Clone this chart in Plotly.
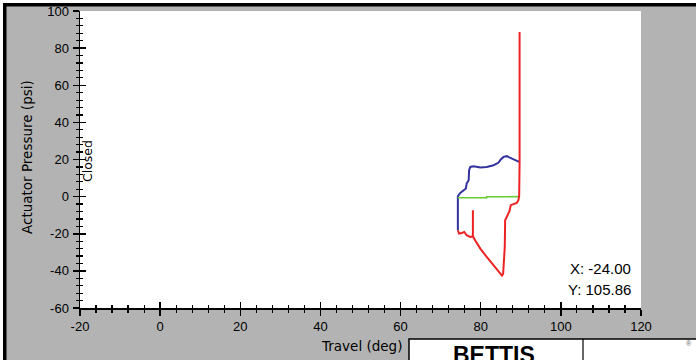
import plotly.graph_objects as go

# ---- data ----
blue_x = [74.3, 74.3, 74.9, 75.7, 76.3, 76.5, 77.0, 77.1, 77.4, 78.2, 79.9, 81.5, 83.2, 84.4, 85.0, 85.7, 86.5, 87.8, 88.6, 89.6]
blue_y = [-18.1, 0.2, 2.0, 3.5, 4.4, 7.1, 8.8, 14.2, 16.0, 16.4, 15.7, 16.0, 16.9, 18.2, 20.0, 21.4, 21.8, 20.5, 19.6, 18.7]

green_x = [74.3, 81.5, 81.5, 89.6]
green_y = [-0.6, -0.6, -0.1, 0.0]

red_x = [74.3, 74.6, 75.3, 75.9, 76.5, 77.4, 78.05, 78.05, 78.05, 78.6, 79.9, 81.5, 83.2, 84.4, 85.3,
         85.6, 86.0, 86.1, 86.7, 87.2, 87.5, 88.4, 89.0, 89.4, 89.6, 89.7, 89.7]
red_y = [-18.1, -19.9, -19.6, -19.0, -20.8, -21.7, -21.4, -7.3, -21.4, -23.5, -28.0, -32.5, -37.0, -39.7, -42.5,
         -41.5, -27.1, -12.7, -10.0, -7.7, -4.6, -4.1, -3.4, -1.9, 0.2, 18.7, 88.7]

x_tickvals = [-20, 0, 20, 40, 60, 80, 100, 120]
x_ticktext = ["-20", "0", "20", "40", "60", "80", "100", "120"]
y_tickvals = [-60, -40, -20, 0, 20, 40, 60, 80, 100]
y_ticktext = ["-60", "-40", "-20", "0", "20", "40", "60", "80", "100"]
x_minor = [v for v in range(-20, 121, 4) if v % 20 != 0]
y_minor = [v for v in range(-60, 101, 4) if v % 20 != 0]

x_title = "Travel (deg)"
y_title = "Actuator Pressure (psi)"
marker_label = "Closed"
cursor_x = "X: -24.00"
cursor_y = "Y: 105.86"
brand = "BETTIS"

# ---- layout geometry (pixels) ----
W, H = 696, 360
L, R, T, B = 80, 55, 11, 52
PW, PH = W - L - R, H - T - B


def fx(px):
    return (px - L) / PW


def fy(py):
    return (H - B - py) / PH


GRAY = "#b3b3b3"

fig = go.Figure()
fig.add_trace(go.Scatter(x=blue_x, y=blue_y, mode="lines",
                         line=dict(color="#33339f", width=2), hoverinfo="skip"))
fig.add_trace(go.Scatter(x=green_x, y=green_y, mode="lines",
                         line=dict(color="#66cc33", width=1.6), hoverinfo="skip"))
fig.add_trace(go.Scatter(x=red_x, y=red_y, mode="lines",
                         line=dict(color="#ee2222", width=2), hoverinfo="skip"))
# empty trace to register the overlay axes used for inward tick halves
fig.add_trace(go.Scatter(x=[], y=[], xaxis="x2", yaxis="y2", hoverinfo="skip"))

tickfont = dict(family="Arial, Liberation Sans", size=13, color="black")

common_x = dict(range=[-20, 120], showgrid=False, zeroline=False, fixedrange=True, automargin=False)
common_y = dict(range=[-60, 100], showgrid=False, zeroline=False, fixedrange=True, automargin=False)

fig.update_layout(
    width=W, height=H,
    margin=dict(l=L, r=R, t=T, b=B, pad=0, autoexpand=False),
    paper_bgcolor="black",          # shows through only as the frame bars at top/left
    plot_bgcolor="white",
    showlegend=False,
    xaxis=dict(**common_x, tickmode="array", tickvals=x_tickvals, ticktext=x_ticktext,
               showline=True, linecolor="black", linewidth=1.5,
               ticks="outside", ticklen=6, tickwidth=1.5, tickcolor="black",
               tickfont=tickfont, ticklabelstandoff=0,
               minor=dict(tickmode="array", tickvals=x_minor, ticks="outside",
                          ticklen=3, tickwidth=1.2, tickcolor="black")),
    yaxis=dict(**common_y, tickmode="array", tickvals=y_tickvals, ticktext=y_ticktext,
               showline=True, linecolor="black", linewidth=1.5,
               ticks="outside", ticklen=6, tickwidth=1.5, tickcolor="black",
               tickfont=tickfont, ticklabelstandoff=1,
               minor=dict(tickmode="array", tickvals=y_minor, ticks="outside",
                          ticklen=3, tickwidth=1.2, tickcolor="black")),
    xaxis2=dict(**common_x, overlaying="x", anchor="y2", side="bottom",
                tickmode="array", tickvals=x_tickvals, showticklabels=False,
                ticks="inside", ticklen=6, tickwidth=1.5, tickcolor="black",
                minor=dict(tickmode="array", tickvals=x_minor, ticks="inside",
                           ticklen=3, tickwidth=1.2, tickcolor="black")),
    yaxis2=dict(**common_y, overlaying="y", anchor="x2", side="left",
                tickmode="array", tickvals=y_tickvals, showticklabels=False,
                ticks="inside", ticklen=6, tickwidth=1.5, tickcolor="black",
                minor=dict(tickmode="array", tickvals=y_minor, ticks="inside",
                           ticklen=3, tickwidth=1.2, tickcolor="black")),
)

shapes = [
    # gray panel leaving a black frame at the top and left edges
    dict(type="rect", xref="paper", yref="paper", x0=fx(6.5), x1=fx(W + 5), y0=fy(6.5), y1=fy(H + 5),
         fillcolor=GRAY, line=dict(width=0), layer="below"),
    # white plotting panel
    dict(type="rect", xref="paper", yref="paper", x0=0, x1=1, y0=0, y1=1,
         fillcolor="white", line=dict(width=0), layer="below"),
    # logo box
    dict(type="rect", xref="paper", yref="paper", x0=fx(409), x1=fx(W + 5), y0=fy(339), y1=fy(H + 5),
         fillcolor="white", line=dict(color="black", width=1.5), layer="above"),
    dict(type="line", xref="paper", yref="paper", x0=fx(583), x1=fx(583), y0=fy(339), y1=fy(H),
         line=dict(color="black", width=1.2), layer="above"),
]


def bar(px0, py0, w, h, color):
    # thin white strip at the outer edge, drawn as an empty filled annotation box
    return dict(text=" ", xref="paper", yref="paper", x=fx(px0), y=fy(py0),
                xanchor="left", yanchor="top", showarrow=False,
                width=w, height=h, bgcolor=color, borderpad=0, borderwidth=0,
                font=dict(size=1, color=color))


annotations = [
    bar(0, 0, W, 3, "white"),
    bar(0, 0, 3, H, "white"),
    dict(text=y_title, xref="paper", yref="paper", x=fx(27), y=fy(157), textangle=-90,
         showarrow=False, xanchor="center", yanchor="middle",
         font=dict(family="DejaVu Sans", size=13.5, color="black")),
    dict(text=x_title, xref="paper", yref="paper", x=fx(361), y=fy(346),
         showarrow=False, xanchor="center", yanchor="middle",
         font=dict(family="DejaVu Sans", size=13.5, color="black")),
    dict(text=marker_label, xref="paper", yref="paper", x=fx(88), y=fy(161), textangle=-90,
         showarrow=False, xanchor="center", yanchor="middle",
         font=dict(family="DejaVu Sans", size=12.5, color="black")),
    dict(text=cursor_x, xref="paper", yref="paper", x=fx(633), y=fy(268),
         showarrow=False, xanchor="right", yanchor="middle",
         font=dict(family="Arial, Liberation Sans", size=15, color="black")),
    dict(text=cursor_y, xref="paper", yref="paper", x=fx(633), y=fy(289),
         showarrow=False, xanchor="right", yanchor="middle",
         font=dict(family="Arial, Liberation Sans", size=15, color="black")),
    dict(text="<b>" + brand + "</b>", xref="paper", yref="paper", x=fx(494), y=fy(355),
         showarrow=False, xanchor="center", yanchor="middle",
         font=dict(family="Arial, Liberation Sans", size=23, color="black")),
    dict(text="®", xref="paper", yref="paper", x=fx(689), y=fy(343),
         showarrow=False, xanchor="center", yanchor="middle",
         font=dict(family="Arial, Liberation Sans", size=7, color="#666666")),
]

fig.update_layout(shapes=shapes, annotations=annotations)

fig.write_html("out.html", config=dict(displayModeBar=False, staticPlot=True),
               post_script="document.body.style.margin='0';document.body.style.padding='0';")
